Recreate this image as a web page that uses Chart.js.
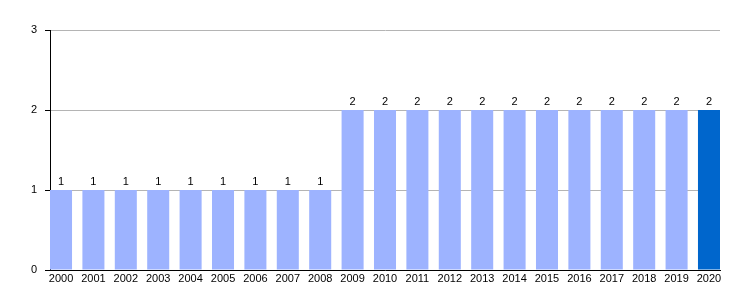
<!DOCTYPE html>
<html>
<head>
<meta charset="utf-8">
<script src="https://cdn.jsdelivr.net/npm/chart.js@4"></script>
<style>
  body { margin: 0; background: #fff; }
  #wrap { width: 750px; height: 300px; }
</style>
</head>
<body>
<div id="wrap"><canvas id="chart"></canvas></div>
<script>
// Values
const years = ['2000', '2001', '2002', '2003', '2004', '2005', '2006', '2007', '2008', '2009',
  '2010', '2011', '2012', '2013', '2014', '2015', '2016', '2017', '2018', '2019', '2020'];
const counts = [1, 1, 1, 1, 1, 1, 1, 1, 1, 2, 2, 2, 2, 2, 2, 2, 2, 2, 2, 2, 2];
const yTicks = [0, 1, 2, 3];

const light = '#9db3ff';
const dark = '#0066cc';
const font = { family: 'Liberation Sans, Arial, sans-serif', size: 11 };

// numbers above each bar
const valueLabels = {
  id: 'valueLabels',
  afterDatasetsDraw(chart) {
    const ctx = chart.ctx;
    const meta = chart.getDatasetMeta(0);
    ctx.save();
    ctx.font = font.size + 'px ' + font.family;
    ctx.fillStyle = '#000';
    ctx.textAlign = 'center';
    ctx.textBaseline = 'bottom';
    meta.data.forEach((bar, i) => {
      ctx.fillText(String(counts[i]), bar.x, bar.y - 3);
    });
    ctx.restore();
  }
};

new Chart(document.getElementById('chart'), {
  type: 'bar',
  data: {
    datasets: [{
      data: counts.map((v, i) => ({ x: i, y: v })),
      backgroundColor: counts.map((v, i) => i === counts.length - 1 ? dark : light),
      borderWidth: 0,
      categoryPercentage: 1,
      barPercentage: 0.68
    }]
  },
  options: {
    responsive: true,
    maintainAspectRatio: false,
    animation: false,
    layout: { padding: { top: 30, right: 30, left: 0, bottom: 0 } },
    plugins: { legend: { display: false }, tooltip: { enabled: false } },
    scales: {
      x: {
        type: 'linear',
        offset: false,
        min: -0.34,
        max: 20.34,
        grid: { display: false, drawTicks: false },
        border: { display: true, color: '#000', width: 1 },
        afterBuildTicks: (scale) => { scale.ticks = years.map((y, i) => ({ value: i })); },
        afterFit: (scale) => { scale.height = 30; },
        ticks: {
          autoSkip: false,
          maxRotation: 0,
          padding: 2,
          color: '#000',
          font: font,
          callback: (v) => years[v]
        }
      },
      y: {
        min: 0,
        max: 3,
        afterBuildTicks: (scale) => { scale.ticks = yTicks.map(v => ({ value: v })); },
        afterFit: (scale) => { scale.width = 50; },
        grid: {
          color: '#b4b4b4',
          tickColor: '#000',
          tickLength: 5,
          drawTicks: true
        },
        border: { display: true, color: '#000', width: 1 },
        ticks: { color: '#000', font: font, padding: 8 }
      }
    }
  },
  plugins: [valueLabels]
});
</script>
</body>
</html>
